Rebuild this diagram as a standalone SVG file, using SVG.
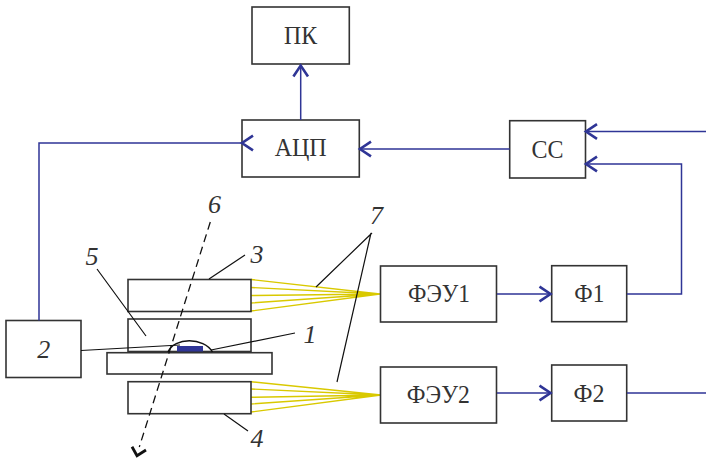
<svg xmlns="http://www.w3.org/2000/svg" width="706" height="458" viewBox="0 0 706 458">
<style>
.b{fill:#fff;stroke:#333;stroke-width:1.6}
.t{font-family:"Liberation Serif",serif;font-size:26px;fill:#333;text-anchor:middle}
.n{font-family:"Liberation Serif",serif;font-size:26px;font-style:italic;fill:#333;text-anchor:middle}
.c{fill:none;stroke:#2f3596;stroke-width:1.5}
.a{fill:none;stroke:#2f3596;stroke-width:2.6}
.l{fill:none;stroke:#111;stroke-width:1.2}
.y{fill:none;stroke:#d9c900;stroke-width:1.4}
</style>
<g id="fan">
<path class="y" d="M251 279.5L380 294M251 287.5L380 294M251 295.5L380 294M251 303L380 294M251 311L380 294M251 381.7L381 395M251 389L381 395M251 397.3L381 395M251 404L381 395M251 412L381 395"/>
</g>
<g id="n3"><rect class="b" x="128" y="279.5" width="123" height="32"/></g>
<g id="n5"><rect class="b" x="128" y="319" width="123" height="32.500"/></g>
<g id="slab"><rect class="b" x="107" y="352.700" width="165" height="21.300"/></g>
<g id="n4"><rect class="b" x="128" y="381.700" width="123" height="32"/></g>
<g id="n2"><rect class="b" x="6" y="320.500" width="75" height="57"/><text class="n" x="43.700" y="357.700">2</text></g>
<g id="pk"><rect class="b" x="252" y="7" width="97.300" height="57"/><text class="t" x="300.500" y="44" textLength="33" lengthAdjust="spacingAndGlyphs">ПК</text></g>
<g id="adc"><rect class="b" x="242" y="120" width="117.300" height="57"/><text class="t" x="300.700" y="155.700" textLength="52" lengthAdjust="spacingAndGlyphs">АЦП</text></g>
<g id="cc"><rect class="b" x="509.700" y="120.700" width="75.800" height="57.300"/><text class="t" x="547.500" y="157.700" textLength="32" lengthAdjust="spacingAndGlyphs">СС</text></g>
<g id="pmt1"><rect class="b" x="380.500" y="266" width="116" height="56"/><text class="t" x="439" y="302.300" textLength="62" lengthAdjust="spacingAndGlyphs">ФЭУ1</text></g>
<g id="pmt2"><rect class="b" x="380.500" y="367" width="116" height="56"/><text class="t" x="438.300" y="403.300" textLength="63" lengthAdjust="spacingAndGlyphs">ФЭУ2</text></g>
<g id="f1"><rect class="b" x="551.700" y="265.700" width="75" height="56"/><text class="t" x="589.300" y="302" textLength="30" lengthAdjust="spacingAndGlyphs">Ф1</text></g>
<g id="f2"><rect class="b" x="551.700" y="365" width="75" height="56"/><text class="t" x="589" y="402" textLength="31" lengthAdjust="spacingAndGlyphs">Ф2</text></g>
<g id="connectors">
<path class="c" d="M39 320.500V143H241M300.700 120V65M509.700 149H360M706 131.500H586M627 294H681.500V164H586M497 294H551M627 393H706M497 393H551"/>
<path class="a" d="M293.400 76.500L300.700 65.500L308 76.500M253 135.700L242 143L253 150.300M371 141.700L360 149L371 156.300M597 124.200L586 131.500L597 138.800M597 156.700L586 164L597 171.300M539.500 286.700L550.500 294L539.500 301.300M539.500 385.700L550.500 393L539.500 400.300"/>
</g>
<g id="sample">
<path d="M168 352C174 337 204 337 212.500 352" fill="none" stroke="#111" stroke-width="1.500"/>
<rect x="177" y="346" width="26" height="5.500" fill="#2f3596"/>
</g>
<g id="leaders">
<path class="l" d="M81 350.500L180 345M211 350L295 333M209 279L245 255M97 269L146 336M224 414L248 431M372 233L316 287M371 233L337 382"/>
<path d="M210.300 222L139.300 447" fill="none" stroke="#111" stroke-width="1.300" stroke-dasharray="8 5"/>
<path d="M132 446.700L137 455.700L146 450" fill="none" stroke="#111" stroke-width="2.800"/>
</g>
<g id="labels">
<text class="n" x="214.500" y="212.700">6</text>
<text class="n" x="376.500" y="224">7</text>
<text class="n" x="92" y="265">5</text>
<text class="n" x="257" y="262.700">3</text>
<text class="n" x="310" y="342.700">1</text>
<text class="n" x="257" y="447.300">4</text>
</g>
</svg>
